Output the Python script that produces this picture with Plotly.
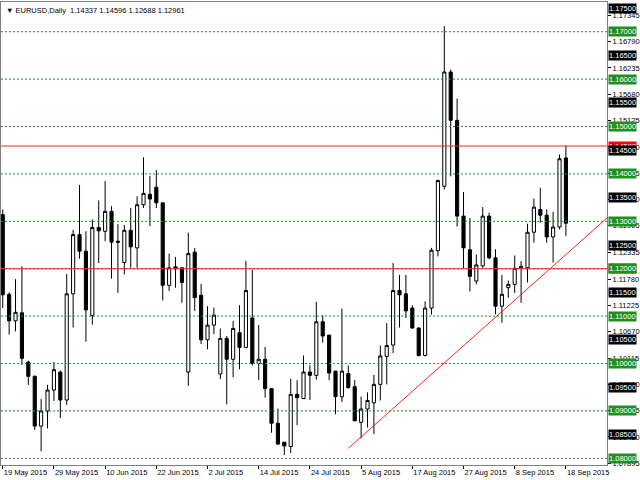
import pandas as pd
import plotly.graph_objects as go

# ---------------- data ----------------
DATES = [d.strftime("%Y-%m-%d") for d in pd.bdate_range("2015-05-19", "2015-09-18")]

OPEN = [1.1314, 1.1146, 1.1090, 1.1107, 1.1003, 1.0973, 1.0868, 1.0900, 1.0944, 1.0982,
        1.0923, 1.1147, 1.1272, 1.1237, 1.1101, 1.1287, 1.1279, 1.1321, 1.1258, 1.1213,
        1.1281, 1.1244, 1.1335, 1.1357, 1.1372, 1.1339, 1.1165, 1.1204, 1.1202, 1.0982,
        1.1235, 1.1144, 1.1050, 1.1081, 1.0978, 1.1053, 1.1009, 1.1065, 1.1034, 1.1096,
        1.1000, 1.1009, 1.0947, 1.0874, 1.0834, 1.0825, 1.0935, 1.0926, 1.0982, 1.0975,
        1.1088, 1.1060, 1.0984, 1.0930, 1.0979, 1.0951, 1.0876, 1.0904, 1.0917, 1.0956,
        1.1015, 1.1039, 1.1154, 1.1147, 1.1117, 1.1075, 1.1017, 1.1117, 1.1238, 1.1374,
        1.1615, 1.1513, 1.1311, 1.1240, 1.1174, 1.1206, 1.1311, 1.1223, 1.1121, 1.1160,
        1.1167, 1.1201, 1.1202, 1.1277, 1.1325, 1.1313, 1.1267, 1.1288, 1.14337]
HIGH = [1.1325, 1.1150, 1.1178, 1.1205, 1.1006, 1.0975, 1.0925, 1.0955, 1.1003, 1.0985,
        1.1189, 1.1282, 1.1377, 1.1279, 1.1304, 1.1344, 1.1385, 1.1332, 1.1294, 1.1292,
        1.1328, 1.1353, 1.1435, 1.1396, 1.1408, 1.1339, 1.1232, 1.1225, 1.1202, 1.1276,
        1.1244, 1.1168, 1.1121, 1.1118, 1.1074, 1.1058, 1.1090, 1.1123, 1.1216, 1.1198,
        1.1081, 1.1035, 1.0947, 1.0905, 1.0834, 1.0968, 1.0965, 1.1017, 1.0996, 1.1130,
        1.1102, 1.1060, 1.0984, 1.1116, 1.0996, 1.0965, 1.0930, 1.0939, 1.0976, 1.1038,
        1.1085, 1.1212, 1.1187, 1.1187, 1.1123, 1.1076, 1.1131, 1.1244, 1.1388, 1.1712,
        1.1620, 1.1559, 1.1362, 1.1307, 1.1230, 1.1330, 1.1318, 1.1241, 1.1187, 1.1175,
        1.1228, 1.1216, 1.1295, 1.1348, 1.1371, 1.1325, 1.1320, 1.1441, 1.14596]
LOW = [1.1117, 1.1061, 1.1068, 1.0997, 1.0955, 1.0860, 1.0815, 1.0863, 1.0921, 1.0885,
       1.0913, 1.1076, 1.1221, 1.1046, 1.1082, 1.1212, 1.1258, 1.1179, 1.1149, 1.1188,
       1.1202, 1.1202, 1.1328, 1.1290, 1.1328, 1.1133, 1.1153, 1.1160, 1.1128, 1.0953,
       1.1111, 1.1041, 1.1030, 1.1062, 1.0967, 1.0914, 1.0971, 1.0988, 1.1033, 1.0996,
       1.0965, 1.0928, 1.0854, 1.0828, 1.0807, 1.0811, 1.0870, 1.0925, 1.0923, 1.0966,
       1.1044, 1.0965, 1.0893, 1.0919, 1.0947, 1.0879, 1.0842, 1.0865, 1.0851, 1.0922,
       1.0956, 1.1022, 1.1076, 1.1096, 1.1073, 1.1015, 1.1015, 1.1103, 1.1226, 1.1367,
       1.1395, 1.1289, 1.1201, 1.1152, 1.1167, 1.1202, 1.1220, 1.1104, 1.1086, 1.1139,
       1.1149, 1.1128, 1.1171, 1.1255, 1.1297, 1.1255, 1.1213, 1.1283, 1.12688]
CLOSE = [1.1145, 1.1090, 1.1108, 1.1011, 1.0973, 1.0868, 1.0900, 1.0944, 1.0987, 1.0923,
         1.1147, 1.1272, 1.1237, 1.1113, 1.1287, 1.1280, 1.1321, 1.1256, 1.1256, 1.1281,
         1.1246, 1.1335, 1.1359, 1.1347, 1.1339, 1.1165, 1.1202, 1.1200, 1.1171, 1.1232,
         1.1139, 1.1050, 1.1081, 1.1102, 1.1053, 1.1009, 1.1074, 1.1034, 1.1154, 1.1000,
         1.1009, 1.0947, 1.0874, 1.0830, 1.0826, 1.0935, 1.0928, 1.0982, 1.0975, 1.1088,
         1.1058, 1.0980, 1.0930, 1.0984, 1.0949, 1.0879, 1.0904, 1.0922, 1.0956, 1.1016,
         1.1038, 1.1154, 1.1145, 1.1111, 1.1075, 1.1017, 1.1117, 1.1239, 1.1386, 1.1615,
         1.1513, 1.1311, 1.1244, 1.1184, 1.1208, 1.1311, 1.1223, 1.1121, 1.1146, 1.1167,
         1.1201, 1.1205, 1.1277, 1.1330, 1.1313, 1.1267, 1.1288, 1.1432, 1.12961]

TICK_INDEX = [0, 8, 16, 24, 32, 40, 48, 56, 64, 72, 80, 88]
TICK_TEXT = ["19 May 2015", "29 May 2015", "10 Jun 2015", "22 Jun 2015", "2 Jul 2015",
             "14 Jul 2015", "24 Jul 2015", "5 Aug 2015", "17 Aug 2015", "27 Aug 2015",
             "8 Sep 2015", "18 Sep 2015"]

SCALE_VALUES = [1.17345, 1.16790, 1.16235, 1.15680, 1.15125, 1.14570, 1.14015, 1.13460,
                1.12905, 1.12335, 1.11780, 1.11225, 1.10670, 1.10115, 1.09560, 1.09005,
                1.08450, 1.07895]
GREEN_LEVELS = [1.17, 1.16, 1.15, 1.14, 1.13, 1.12, 1.11, 1.10, 1.09, 1.08]
BLACK_LEVELS = [1.175, 1.165, 1.155, 1.145, 1.135, 1.125, 1.115, 1.105, 1.095, 1.085]
RED_LEVELS = [1.14589, 1.12000]
TREND_X = [54, 94.5]
TREND_Y = [1.0821, 1.1308]
TITLE = "EURUSD,Daily  1.14337 1.14596 1.12688 1.12961"

# ---------------- figure ----------------
FONT = "Liberation Sans"
FS = 7.5
GREEN = "#1f8f1f"
RED = "#ff2020"

X = list(range(len(OPEN)))

fig = go.Figure()
fig.add_trace(go.Candlestick(
    x=X, open=OPEN, high=HIGH, low=LOW, close=CLOSE, text=DATES,
    increasing=dict(line=dict(color="black", width=1), fillcolor="white"),
    decreasing=dict(line=dict(color="black", width=1), fillcolor="black"),
    whiskerwidth=0, showlegend=False,
))
fig.add_trace(go.Scatter(x=TREND_X, y=TREND_Y, mode="lines",
                         line=dict(color=RED, width=1), showlegend=False, hoverinfo="skip"))

shapes = []
for lv in GREEN_LEVELS:
    shapes.append(dict(type="line", xref="paper", x0=0, x1=1, yref="y", y0=lv, y1=lv,
                       line=dict(color=GREEN, width=1, dash="2px,2px"), layer="above"))
for lv in RED_LEVELS:
    shapes.append(dict(type="line", xref="paper", x0=0, x1=1, yref="y", y0=lv, y1=lv,
                       line=dict(color=RED, width=1), layer="above"))

ann = []
def box(v, txt, bg):
    return dict(xref="paper", x=1, xanchor="left", xshift=1, yref="y", y=v, yanchor="middle",
                text=txt, showarrow=False, bgcolor=bg, borderpad=0,
                font=dict(family=FONT, size=FS, color="white"))
for v in RED_LEVELS:
    ann.append(box(v, f"{v:.5f}", "#ff0000"))
for v in BLACK_LEVELS:
    ann.append(box(v, f"{v:.5f}", "black"))
for v in GREEN_LEVELS:
    ann.append(box(v, f"{v:.5f}", GREEN))
ann.append(dict(xref="paper", yref="paper", x=0, y=1, xanchor="left", yanchor="top",
                xshift=3, yshift=-2, showarrow=False,
                text="▼ " + TITLE, font=dict(family=FONT, size=FS, color="black")))

fig.update_layout(
    width=640, height=480,
    margin=dict(l=1, r=33, t=2, b=15, autoexpand=False),
    paper_bgcolor="white", plot_bgcolor="white",
    shapes=shapes, annotations=ann,
    font=dict(family=FONT, size=FS, color="black"),
    xaxis=dict(range=[-0.27, 94.42], showgrid=False, zeroline=False,
               showline=True, linecolor="#808080", linewidth=1, mirror=True,
               ticks="outside", ticklen=3, tickcolor="black", tickangle=0,
               tickvals=TICK_INDEX, ticktext=TICK_TEXT, ticklabelposition="outside right",
               tickfont=dict(family=FONT, size=FS, color="black"), automargin=False,
               rangeslider=dict(visible=False), fixedrange=True),
    yaxis=dict(range=[1.07859, 1.17627], side="right", showgrid=False, zeroline=False,
               showline=True, linecolor="#808080", linewidth=1, mirror=True,
               ticks="outside", ticklen=3, tickcolor="black", automargin=False,
               tickvals=SCALE_VALUES, ticktext=[f"{v:.5f}" for v in SCALE_VALUES],
               tickfont=dict(family=FONT, size=FS, color="black"), fixedrange=True),
)

fig.write_html("out.html", config={"displayModeBar": False},
               post_script="document.body.style.margin='0';document.body.style.overflow='hidden';")
